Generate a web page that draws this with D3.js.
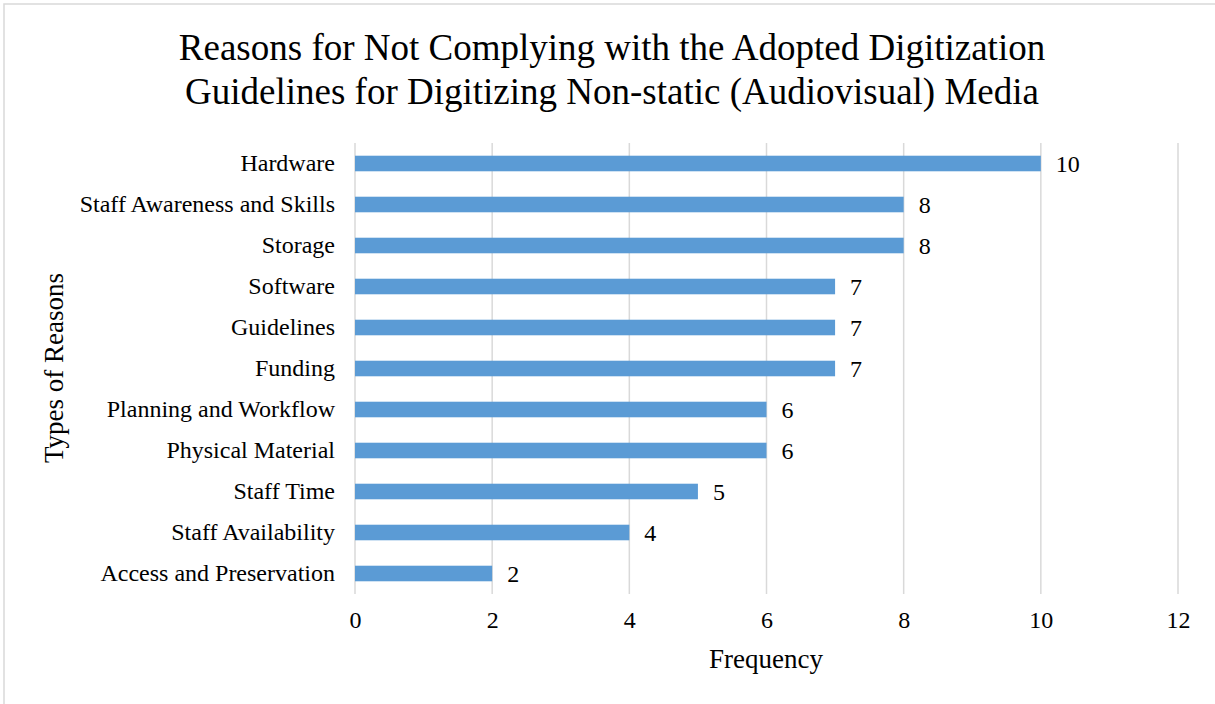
<!DOCTYPE html>
<html><head><meta charset="utf-8">
<script src="https://cdn.jsdelivr.net/npm/d3@7"></script>
<style>body{margin:0;background:#fff;}svg{display:block;font-family:"Liberation Serif","Times New Roman",serif;}</style>
</head><body>
<svg id="c" width="1215" height="704"></svg>
<script>
const categories = ["Hardware","Staff Awareness and Skills","Storage","Software","Guidelines","Funding","Planning and Workflow","Physical Material","Staff Time","Staff Availability","Access and Preservation"];
const values = [10,8,8,7,7,7,6,6,5,4,2];
const xTicks = [0,2,4,6,8,10,12];
const titleLines = ["Reasons for Not Complying with the Adopted Digitization","Guidelines for Digitizing Non-static (Audiovisual) Media"];

const svg = d3.select("#c");
svg.append("rect").attr("x",4).attr("y",4).attr("width",1230).attr("height",720).attr("fill","#fff").attr("stroke","#d9d9d9").attr("stroke-width",1.5);

const m = {left:355, right:1178, top:143, bottom:594};
const x = d3.scaleLinear().domain([0,12]).range([m.left,m.right]);
const y = d3.scaleBand().domain(categories).range([m.top,m.bottom]).paddingInner(0.62).paddingOuter(0.31);

// grid
svg.append("g").selectAll("line").data(xTicks).join("line")
  .attr("x1",d=>x(d)).attr("x2",d=>x(d)).attr("y1",m.top).attr("y2",m.bottom)
  .attr("stroke","#d9d9d9").attr("stroke-width",1.5);

// bars
svg.append("g").selectAll("rect").data(values).join("rect")
  .attr("x",x(0)).attr("y",(d,i)=>y(categories[i])).attr("width",d=>x(d)-x(0)).attr("height",y.bandwidth())
  .attr("fill","#5b9bd5");

// value labels
svg.append("g").selectAll("text").data(values).join("text")
  .attr("x",d=>x(d)+15).attr("y",(d,i)=>y(categories[i])+y.bandwidth()/2).attr("dy","0.35em")
  .attr("font-size",24).attr("fill","#000").text(d=>d);

// y axis labels
const ya = svg.append("g").attr("transform",`translate(${m.left},0)`).call(d3.axisLeft(y).tickSize(0).tickPadding(20));
ya.select(".domain").remove();
ya.selectAll("text").attr("font-size",24).attr("font-family","Liberation Serif").attr("fill","#000");

// x axis labels
const xa = svg.append("g").attr("transform",`translate(0,${m.bottom})`).call(d3.axisBottom(x).tickValues(xTicks).tickSize(0).tickPadding(17));
xa.select(".domain").remove();
xa.selectAll("text").attr("font-size",24).attr("font-family","Liberation Serif").attr("fill","#000");

// titles
svg.append("g").selectAll("text").data(titleLines).join("text")
  .attr("x",612).attr("y",(d,i)=>60+i*44).attr("text-anchor","middle")
  .attr("font-size",37).attr("fill","#000").text(d=>d);

svg.append("text").attr("x",766).attr("y",668).attr("text-anchor","middle").attr("font-size",27).text("Frequency");
svg.append("text").attr("transform","translate(63,368) rotate(-90)").attr("text-anchor","middle").attr("font-size",27).text("Types of Reasons");
</script>
</body></html>
